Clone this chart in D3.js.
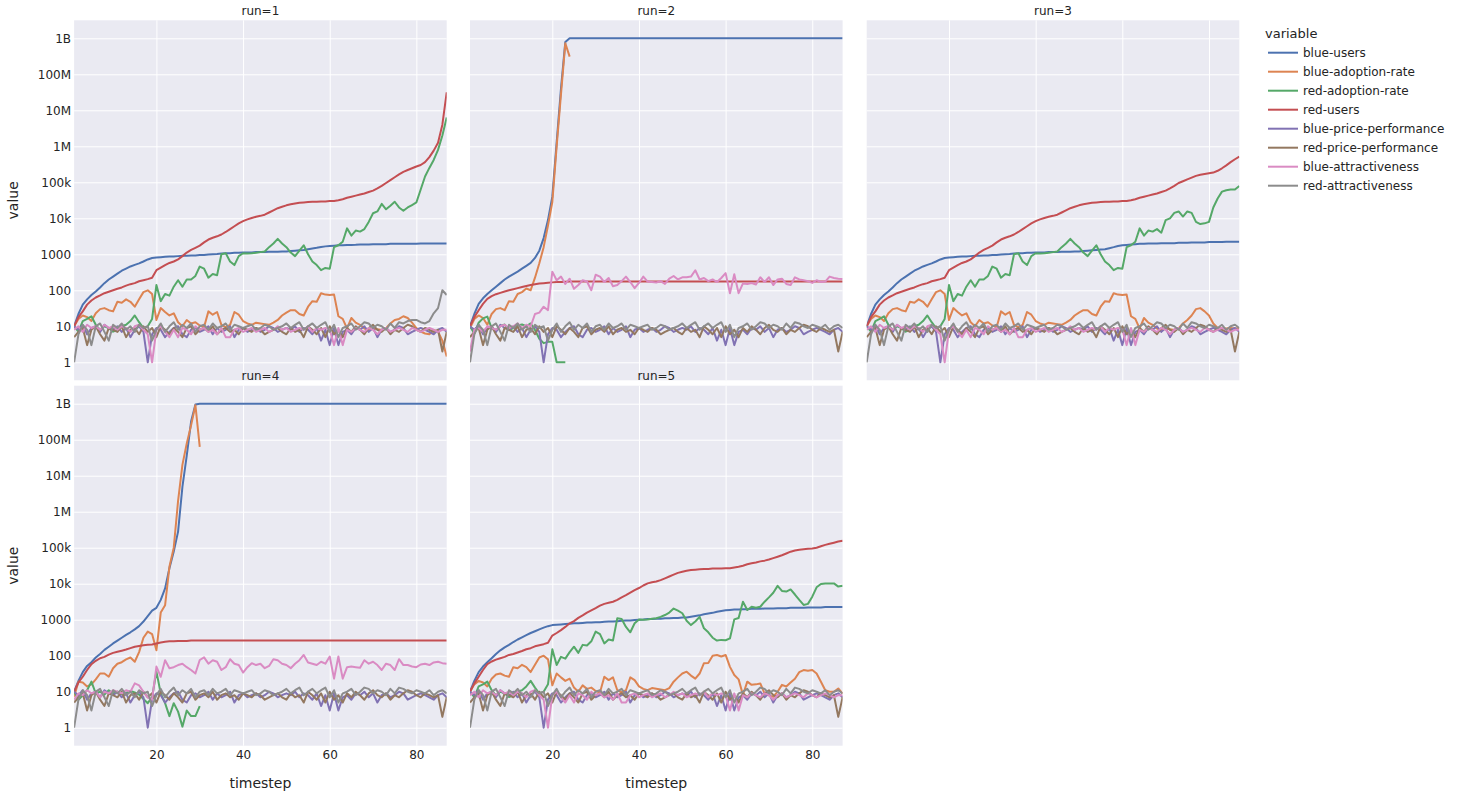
<!DOCTYPE html>
<html><head><meta charset="utf-8">
<script src="https://cdn.jsdelivr.net/npm/d3@7"></script>
<style>body{margin:0;background:#fff;} svg{display:block;font-family:"DejaVu Sans",Verdana,sans-serif;}</style>
</head><body><svg id="chart" width="1471" height="800"></svg>
<script>
const variables = ["blue-users","blue-adoption-rate","red-adoption-rate","red-users","blue-price-performance","red-price-performance","blue-attractiveness","red-attractiveness"];
const colors = ["#4C72B0","#DD8452","#55A868","#C44E52","#8172B3","#937860","#DA8BC3","#8C8C8C"];
const runs = [1,2,3,4,5];
const yTickValues = [1,10,100,1000,1e4,1e5,1e6,1e7,1e8,1e9];
const yTickLabels = ["1","10","100","1000","10k","100k","1M","10M","100M","1B"];
const xTickValues = [20,40,60,80];

// shared noisy series (timestep 1..87)
const bluePricePerf = [10,8,11,6,9,10,7,11,9,8, 10,7,9,5,8,10,7,1,6,9, 8,5,7,9,10,6,5,8,9,7, 8,10,6,9,7,8,10,5,8,9, 7,8,9,7,8,10,9,7,8,9, 8,10,7,9,8,6,9,4,8,3, 9,3,7,8,6,9,8,10,7,9, 5,8,9,7,8,10,9,6,7,8, 9,8,7,6,8,9,7];
const redPricePerf = [5,7,9,3,8,10,6,4,9,8, 7,10,5,8,9,6,10,7,9,5, 10,8,6,9,7,5,9,10,6,8, 9,7,10,6,8,9,7,8,6,9, 8,7,9,8,6,7,8,9,7,6, 9,7,8,5,10,8,6,9,5,10, 6,8,5,9,7,10,8,6,9,11, 8,7,9,6,8,7,9,11,10,8, 7,9,8,7,8,2,7];
const redAttract = [1,6,11,8,3,10,12,7,4,11, 9,12,8,10,7,11,9,10,4,8, 12,7,10,13,8,11,9,12,7,10, 11,8,12,9,10,12,8,11,10,9, 10,11,8,9,11,10,8,9,10,12, 9,11,13,8,10,12,9,11,13,7, 11,5,9,10,12,8,10,13,12,9, 11,10,8,12,9,13,12,10,9,11, 10,9,11,8,10,11,9];
const redAttractRun1 = [1,6,11,8,3,10,12,7,4,11, 9,12,8,10,7,11,9,10,4,8, 12,7,10,13,8,11,9,12,7,10, 11,8,12,9,10,12,8,11,10,9, 10,11,8,9,11,10,8,9,10,12, 9,11,13,8,10,12,9,11,13,7, 11,5,9,10,12,8,10,13,12,9, 11,10,8,12,9,13,12,14,15,15, 13,12,14,23,32,100,74];
const blueAttractA = [8,10,7,11,9,10,8,11,9,10, 8,10,9,7,10,11,8,6,1,8, 10,7,5,8,5,9,8,6,10,8, 9,7,8,6,9,5,5,8,9,7, 8,9,7,8,9,7,8,10,8,9, 7,8,9,8,10,7,9,8,9,8, 3,9,3,8,7,9,8,7,9,8, 6,8,9,7,8,9,8,7,9,8, 7,8,9,8,7,8,8];
const blueAttractRun2 = [2,8,9,7,10,9,8,10,11,9, 10,12,9,11,10,22,24,35,28,330, 190,240,150,210,110,140,190,175,100,270, 240,170,220,130,140,180,240,170,115,160, 240,175,170,165,180,150,210,250,200,230, 230,240,360,200,220,180,200,170,220,300, 83,280,83,155,150,160,145,230,170,230, 140,200,210,150,140,230,200,190,180,160, 190,170,175,240,220,210,205];
const blueAttractRun4 = [6,9,8,11,9,10,7,10,9,11, 10,9,11,10,17,15,10,7,6,50, 26,75,45,48,55,60,48,40,32,76, 90,60,75,68,40,48,80,60,55,34, 48,62,55,60,45,52,80,75,60,55, 45,60,75,105,65,60,55,68,60,95, 23,95,23,48,50,48,46,75,60,68, 55,40,60,55,40,80,55,55,50,48, 57,60,55,65,68,62,60];

// run 1
const blueUsersRun1 = [10,22,40,56,74,93,120,158,200,240, 290,350,400,460,510,560,630,720,790,810, 830,850,870,870,890,910,910,930,930,955, 955,980,1000,1020,1050,1070,1070,1100,1100,1120, 1120,1120,1150,1150,1150,1170,1170,1180,1200,1200, 1230,1260,1290,1320,1380,1450,1510,1590,1660,1700, 1740,1780,1780,1820,1820,1830,1860,1860,1870,1900, 1900,1910,1910,1950,1950,1950,1960,1960,1970,1970, 1980,1980,1990,1990,1990,2000,2000];
const blueAdoptRun1 = [10,16,20,18,14,23,30,32,28,26, 48,45,56,48,35,56,89,100,79,15, 32,25,20,23,13,10,15,12,13,10.5, 9.5,26,21,25,11,9.5,11,25,21,14, 12,11,12.6,12,11.5,11,12.6,15,20,24, 28,28,22,20,35,50,48,83,76,74, 76,19,16,8.7,17,12.6,11,8.7,7.9,8.7, 8.3,7.9,8.9,12,15,16,19,17,12.6,8.9, 7.1,6.3,6,7.9,7.1,4,1.45];
const redAdoptRun1 = [10,7.1,14,16,19,11,7.9,10,8.9,7.1, 7.9,10,11,14,20,13,8.9,10,16,141, 50,79,71,126,191,126,200,200,251,457, 398,224,282,263,1000,1070,631,501,891,1070, 1050,1070,1100,1150,1200,1580,2000,2690,2000,1580, 1120,891,1260,1780,1000,631,501,363,417,398, 1580,1780,2240,5250,3310,4570,4270,5010,7940,13800, 15500,25100,17800,22400,28800,20000,16200,20000,23400,27500, 63100,145000,251000,417000,794000,2000000,6310000];
const redUsersRun1 = [10,18,26,40,52,63,72,83,91,100, 110,120,135,148,158,178,190,204,224,363, 427,501,575,631,724,891,1120,1320,1510,1740, 2140,2570,2880,3160,3550,4170,5010,6030,7240,8320, 9330,10200,11000,11700,12600,14500,16600,19100,20900,22900, 24500,25700,26900,27500,28200,28800,28800,29500,29500,30200, 30200,31600,33900,37200,39800,42700,45700,49000,53700,58900, 67600,79400,95500,115000,138000,166000,195000,219000,245000,275000, 302000,363000,501000,759000,1260000,3980000,31600000];

// run 2
const blueUsersRun2 = [10,22,42,60,79,100,126,158,200,240, 282,331,398,479,575,794,1260,2820,8910,39800, 1.26e6,3.98e7,7.94e8,1e9,1e9,1e9,1e9,1e9,1e9,1e9, 1e9,1e9,1e9,1e9,1e9,1e9,1e9,1e9,1e9,1e9, 1e9,1e9,1e9,1e9,1e9,1e9,1e9,1e9,1e9,1e9, 1e9,1e9,1e9,1e9,1e9,1e9,1e9,1e9,1e9,1e9, 1e9,1e9,1e9,1e9,1e9,1e9,1e9,1e9,1e9,1e9, 1e9,1e9,1e9,1e9,1e9,1e9,1e9,1e9,1e9,1e9, 1e9,1e9,1e9,1e9,1e9,1e9,1e9];
const blueAdoptRun2 = [8.9,16,20,17,11,22,30,32,28,50, 48,79,89,112,100,224,562,1580,6310,28200, 1e6,2.82e7,7.24e8,3.09e8];
const redAdoptRun2 = [10,6.3,12.6,16.6,18.6,8.9,7.9,10,11.2,7.9, 8.9,10.5,11.2,10,12,7.9,4.5,3.4,3.7,3.7, 1,1,1];
const redUsersRun2 = [10,18,28,42,58,69,78,85,93,100, 107,115,123,132,141,148,155,158,162,166, 170,170,174,175,175,175,175,175,175,175, 175,175,175,175,175,175,175,175,175,175, 175,175,175,175,175,175,175,175,175,175, 175,175,175,175,175,175,175,175,175,175, 175,175,175,175,175,175,175,175,175,175, 175,175,175,175,175,175,175,175,175,175, 175,175,175,175,175,175,175];

// run 3
const blueUsersRun3 = [10,22,40,56,74,93,120,158,200,240, 290,350,400,460,510,560,630,720,790,810, 830,850,870,870,890,910,910,930,930,955, 955,980,1000,1020,1050,1070,1070,1100,1100,1120, 1120,1120,1150,1150,1150,1170,1170,1180,1200,1200, 1230,1260,1290,1320,1350,1380,1480,1580,1700,1780, 1820,1860,1910,1950,1950,2000,2000,2000,2040,2040, 2040,2040,2090,2090,2090,2140,2140,2140,2140,2190, 2190,2190,2190,2240,2240,2240,2240];
const blueAdoptRun3 = [10,16,20,18,14,23,30,32,28,26, 48,45,56,48,35,56,89,100,79,15, 32,25,20,23,13,10,15,12,13,10.5, 9.5,26,21,25,11,9.5,11,25,21,14, 12,11,12.6,12,11.5,11,12.6,15,20,24, 28,28,22,20,35,50,48,83,76,74, 76,19,16,8.7,17,12.6,11,8.7,7.9,8.7, 8.3,7.9,8.9,12,15,20,30,32,26,20, 12,9,8.7,8.7,9,8.7,9];
const redAdoptRun3 = [10,7.1,14,16,19,11,7.9,10,8.9,7.1, 7.9,10,11,14,20,13,8.9,10,16,141, 50,79,71,126,191,126,200,200,251,457, 398,224,282,263,1000,1070,631,501,891,1070, 1050,1070,1100,1150,1200,1580,2000,2690,2000,1580, 1120,891,1260,1780,1000,631,501,363,417,398, 1580,1780,2240,5250,3310,4570,4270,5010,3980,8910, 10000,14100,15500,11200,15500,14100,7940,6920,7240,7940, 20000,35500,55000,60300,63100,63100,79400];
const redUsersRun3 = [10,18,26,40,52,63,72,83,91,100, 110,120,135,148,158,178,190,204,224,363, 427,501,575,631,724,891,1120,1320,1510,1740, 2140,2570,2880,3160,3550,4170,5010,6030,7240,8320, 9330,10200,11000,11700,12600,14500,16600,19100,20900,22900, 24500,25700,26900,27500,28200,28800,28800,29500,29500,30200, 30200,31600,33900,37200,39800,42700,45700,49000,53700,58900, 67600,79400,95500,107000,120000,135000,151000,162000,170000,178000, 186000,209000,245000,295000,363000,437000,513000];

// run 4
const blueUsersRun4 = [10,20,35,52,66,89,112,145,178,219, 263,316,380,447,537,661,891,1260,1780,2140, 3550,7400,27000,78000,280000,4.9e6,3.6e7,3.2e8,9.5e8,1e9, 1e9,1e9,1e9,1e9,1e9,1e9,1e9,1e9,1e9,1e9, 1e9,1e9,1e9,1e9,1e9,1e9,1e9,1e9,1e9,1e9, 1e9,1e9,1e9,1e9,1e9,1e9,1e9,1e9,1e9,1e9, 1e9,1e9,1e9,1e9,1e9,1e9,1e9,1e9,1e9,1e9, 1e9,1e9,1e9,1e9,1e9,1e9,1e9,1e9,1e9,1e9, 1e9,1e9,1e9,1e9,1e9,1e9,1e9];
const blueAdoptRun4 = [7.2,19,18,14,16,22,32,32,26,45, 60,66,79,89,68,126,316,468,398,141, 1580,2510,29500,1e5,2e6,2e7,7.9e7,2.5e8,9.1e8,6.3e7];
const redAdoptRun4 = [10,6,7.9,11,19,8.9,10,8.3,11,8.9, 10,8.5,9.3,10.5,9.5,8.3,6.3,4.8,7.1,36, 8.9,4.8,2.1,4.8,2.8,1.07,3,2.1,2.1,4];
const redUsersRun4 = [10,18,26,40,58,72,85,93,107,120, 129,138,148,162,178,186,195,200,204,219, 234,245,251,251,257,257,257,265,265,265, 265,265,265,265,265,265,265,265,265,265, 265,265,265,265,265,265,265,265,265,265, 265,265,265,265,265,265,265,265,265,265, 265,265,265,265,265,265,265,265,265,265, 265,265,265,265,265,265,265,265,265,265, 265,265,265,265,265,265,265];

// run 5
const blueUsersRun5 = [10,20,35,50,66,85,112,141,170,200, 240,282,324,372,427,479,537,603,661,708, 724,741,759,776,794,794,813,832,832,851, 851,871,891,891,912,933,955,955,977,1000, 1020,1050,1050,1070,1070,1100,1100,1120,1120,1150, 1150,1200,1260,1320,1410,1480,1550,1660,1740,1820, 1860,1910,1910,1950,1950,2000,2000,2000,2040,2040, 2040,2090,2090,2090,2140,2140,2140,2140,2190,2190, 2190,2190,2240,2240,2240,2240,2240];
const blueAdoptRun5 = [10,16,20,18,14,23,30,32,28,26, 48,45,56,48,35,56,89,100,79,15, 32,25,20,23,13,10,15,12,13,10.5, 9.5,26,21,25,11,9.5,11,25,21,14, 12,11,12.6,12,11.5,11,12.6,19,25,32, 36,28,23,32,62,63,100,105,95,105, 49,29,22,8.1,19,15.5,16,17,8.9,7.9, 7.2,10,15.5,14,18,23,35,40,38,40, 32,19,11,10,10,12.3,8.9];
const redAdoptRun5 = [10,7.1,14,16,19,11,7.9,10,8.9,7.1, 7.9,10,11,14,20,13,8.9,10,16,151, 55,93,83,126,178,120,200,191,251,468, 398,219,282,263,1100,1050,631,447,794,1020, 1000,1020,1070,1100,1200,1350,1580,2040,1780,1510, 933,708,891,1200,575,447,316,263,275,269, 302,1020,1120,3160,1860,2290,2140,2290,3160,4170, 5620,8710,6310,6030,6920,5010,3550,2570,2750,4370, 7940,9770,10200,10200,10200,8320,8710];
const redUsersRun5 = [10,17,26,40,58,69,78,85,93,105, 112,123,135,151,162,182,195,209,229,363, 427,513,631,794,912,1120,1320,1580,1820,2090, 2450,2750,2950,3160,3550,4170,4790,5620,6610,7590, 8910,10200,11000,11500,12600,14100,15800,17800,20000,21400, 22900,24000,24500,25100,25700,25700,26300,26300,26300,26900, 26900,28200,29500,31600,34700,37200,38900,41700,43700,46800, 51300,56200,61700,69200,77600,83200,87100,91200,93300,95500, 100000,110000,120000,129000,138000,148000,155000];

const runSeries = {
  1: [blueUsersRun1, blueAdoptRun1, redAdoptRun1, redUsersRun1, bluePricePerf, redPricePerf, blueAttractA, redAttractRun1],
  2: [blueUsersRun2, blueAdoptRun2, redAdoptRun2, redUsersRun2, bluePricePerf, redPricePerf, blueAttractRun2, redAttract],
  3: [blueUsersRun3, blueAdoptRun3, redAdoptRun3, redUsersRun3, bluePricePerf, redPricePerf, blueAttractA, redAttract],
  4: [blueUsersRun4, blueAdoptRun4, redAdoptRun4, redUsersRun4, bluePricePerf, redPricePerf, blueAttractRun4, redAttract],
  5: [blueUsersRun5, blueAdoptRun5, redAdoptRun5, redUsersRun5, bluePricePerf, redPricePerf, blueAttractA, redAttract]
};

const FONT = '"DejaVu Sans",Verdana,sans-serif';
const svg = d3.select("#chart");
const W = 372.6, H = 360;
const colX = [74.1, 470, 866.7], rowY = [20.3, 385.7];
const layout = {1:[0,0], 2:[1,0], 3:[2,0], 4:[0,1], 5:[1,1]};
const textColor = "rgb(36,36,36)";

const x = d3.scaleLinear().domain([1, 87]).range([0, W]);
const y = d3.scaleLog().domain([Math.pow(10, -0.5), Math.pow(10, 9.5)]).range([H, 0]);
const line = d3.line().defined(d => d != null && d > 0).x((d, i) => x(i + 1)).y(d => y(d));

runs.forEach(run => {
  const [c, r] = layout[run];
  const g = svg.append("g").attr("transform", `translate(${colX[c]},${rowY[r]})`);
  g.append("rect").attr("width", W).attr("height", H).attr("fill", "#EAEAF2");
  const gy = g.append("g").call(d3.axisLeft(y).tickValues(yTickValues).tickSize(-W).tickFormat(""));
  const gx = g.append("g").attr("transform", `translate(0,${H})`).call(d3.axisBottom(x).tickValues(xTickValues).tickSize(H).tickFormat(""));
  gx.selectAll(".tick line").attr("y2", -H);
  [gx, gy].forEach(a => { a.select(".domain").remove(); a.selectAll(".tick line").attr("stroke", "#ffffff").attr("stroke-width", 1); });
  const cid = "clip" + run;
  g.append("clipPath").attr("id", cid).append("rect").attr("width", W).attr("height", H);
  const lines = g.append("g").attr("clip-path", `url(#${cid})`);
  runSeries[run].forEach((arr, k) => {
    lines.append("path").datum(arr).attr("d", line).attr("fill", "none")
      .attr("stroke", colors[k]).attr("stroke-width", 2).attr("stroke-linejoin", "round");
  });
  svg.append("text").attr("x", colX[c] + W / 2).attr("y", rowY[r] - 10).attr("dy", "0.35em")
    .attr("text-anchor", "middle").attr("font-size", 12).attr("fill", textColor).text("run=" + run);
  if (c === 0) {
    const ay = g.append("g").call(d3.axisLeft(y).tickValues(yTickValues).tickSize(0).tickPadding(3)
      .tickFormat((d, i) => yTickLabels[i]));
    ay.select(".domain").remove();
    ay.selectAll("text").attr("font-size", 12).attr("fill", textColor).attr("font-family", FONT);
    svg.append("text").attr("transform", `translate(13,${rowY[r] + H / 2}) rotate(-90)`).attr("dy", "0.35em")
      .attr("text-anchor", "middle").attr("font-size", 14).attr("fill", textColor).text("value");
  }
  if (r === 1) {
    const ax = g.append("g").attr("transform", `translate(0,${H})`).call(d3.axisBottom(x).tickValues(xTickValues).tickSize(0).tickPadding(5));
    ax.select(".domain").remove();
    ax.selectAll("text").attr("font-size", 12).attr("fill", textColor).attr("font-family", FONT);
    svg.append("text").attr("x", colX[c] + W / 2).attr("y", 783).attr("dy", "0.35em")
      .attr("text-anchor", "middle").attr("font-size", 14).attr("fill", textColor).text("timestep");
  }
});

const lg = svg.append("g").attr("transform", "translate(1265,0)");
lg.append("text").attr("x", 0).attr("y", 33).attr("dy", "0.35em").attr("font-size", 13).attr("fill", textColor).text("variable");
variables.forEach((v, i) => {
  const yy = 52.7 + i * 19;
  lg.append("line").attr("x1", 3).attr("x2", 33).attr("y1", yy).attr("y2", yy).attr("stroke", colors[i]).attr("stroke-width", 2);
  lg.append("text").attr("x", 38).attr("y", yy).attr("dy", "0.35em").attr("font-size", 12).attr("fill", textColor).text(v);
});
</script></body></html>
